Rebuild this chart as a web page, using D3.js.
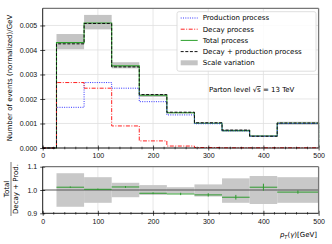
<!DOCTYPE html>
<html>
<head>
<meta charset="utf-8">
<script src="https://cdn.jsdelivr.net/npm/d3@7"></script>
<style>
  body { margin: 0; background: #fff; }
  svg { display: block; font-family: "DejaVu Sans", sans-serif; }
</style>
</head>
<body>
<svg id="chart" width="332" height="244"></svg>
<script>
// bin edges in GeV
const binEdges = [0, 25, 75, 125, 175, 225, 275, 325, 375, 425, 500];

// normalized distributions (x 1e-3 / GeV), one value per bin
const production = [0, 1.66, 2.67, 2.44, 1.89, 1.35, 0.99, 0.70, 0.48, 1.00];
const decay = [0, 2.67, 2.44, 0.90, 0.29, 0.08, 0.02, 0.01, 0.01, 0.01];
const total = [0, 4.30, 5.10, 3.35, 2.15, 1.44, 1.01, 0.71, 0.49, 1.01];
const decayProd = [0, 4.25, 5.08, 3.31, 2.18, 1.46, 1.03, 0.73, 0.48, 1.02];
const scaleLo = [0, 4.03, 4.84, 3.25, 2.08, 1.41, 0.98, 0.67, 0.46, 0.95];
const scaleHi = [0, 4.65, 5.43, 3.50, 2.20, 1.47, 1.04, 0.75, 0.52, 1.07];

// ratio panel (bins from 25 GeV on)
const ratio = [1.012, 1.003, 1.013, 0.986, 0.983, 0.979, 0.969, 1.012, 0.991];
const ratioErr = [0.003, 0.003, 0.004, 0.004, 0.005, 0.007, 0.010, 0.015, 0.007];
const ratioLo = [0.928, 0.945, 0.969, 0.979, 0.986, 0.972, 0.945, 0.940, 0.945];
const ratioHi = [1.072, 1.055, 1.031, 1.021, 1.012, 1.024, 1.050, 1.060, 1.055];

const xTicks = [0, 100, 200, 300, 400, 500];
const yTopTicks = [0, 0.001, 0.002, 0.003, 0.004, 0.005];
const yBotTicks = [0.9, 1.0, 1.1];

const legendItems = [
  { label: "Production process", type: "line", color: "#3333ff", dash: "1,1.3" },
  { label: "Decay process", type: "line", color: "#ff2020", dash: "4,1.5,1,1.5" },
  { label: "Total process", type: "line", color: "#2ca02c", dash: null },
  { label: "Decay + production process", type: "line", color: "#111", dash: "3,1.6" },
  { label: "Scale variation", type: "patch", color: "#c4c4c4" }
];

const svg = d3.select("#chart");
const left = 42.7, right = 318.6;

const x = d3.scaleLinear().domain([0, 500]).range([left, right]);
const yTop = d3.scaleLinear().domain([0, 0.0057]).range([148, 8.3]);
const yBot = d3.scaleLinear().domain([0.9, 1.1]).range([213.3, 166.7]);

const e3 = v => v * 1e-3;
const nBins = binEdges.length - 1;

function grid(y, ticks) {
  const g = svg.append("g").attr("stroke", "#e0e0e0").attr("stroke-width", 0.8);
  g.selectAll(".gx").data(xTicks.slice(1, -1)).join("line")
    .attr("x1", d => x(d)).attr("x2", d => x(d))
    .attr("y1", y.range()[0]).attr("y2", y.range()[1]);
  g.selectAll(".gy").data(ticks).join("line")
    .attr("x1", left).attr("x2", right)
    .attr("y1", d => y(d)).attr("y2", d => y(d));
}

function frame(y, yticks, fmt) {
  // axes with ticks crossing the spine
  const ax = svg.append("g")
    .attr("transform", `translate(0,${y.range()[0]})`)
    .call(d3.axisBottom(x).tickValues(xTicks).tickSize(2.5).tickPadding(3).tickFormat(d3.format("d")));
  ax.selectAll(".tick line").attr("y1", -2.5);
  const minor = d3.range(20, 500, 20).filter(d => d % 100 !== 0);
  ax.selectAll(".minor").data(minor).join("line")
    .attr("x1", d => x(d)).attr("x2", d => x(d))
    .attr("y1", -1.3).attr("y2", 1.3).attr("stroke", "#000").attr("stroke-width", 0.6);

  const ay = svg.append("g")
    .attr("transform", `translate(${left},0)`)
    .call(d3.axisLeft(y).tickValues(yticks).tickSize(2.5).tickPadding(3).tickFormat(fmt));
  ay.selectAll(".tick line").attr("x1", 2.5);

  [ax, ay].forEach(a => {
    a.select(".domain").remove();
    a.selectAll("text").attr("font-size", 7).attr("fill", "#111");
    a.selectAll(".tick line").attr("stroke", "#000").attr("stroke-width", 0.7);
  });

  // spines
  svg.append("line").attr("x1", left).attr("x2", right)
    .attr("y1", y.range()[1]).attr("y2", y.range()[1])
    .attr("stroke", "#777").attr("stroke-width", 1.3);
  svg.append("line").attr("x1", right).attr("x2", right)
    .attr("y1", y.range()[0]).attr("y2", y.range()[1])
    .attr("stroke", "#777").attr("stroke-width", 1.3);
  svg.append("line").attr("x1", left).attr("x2", left)
    .attr("y1", y.range()[0]).attr("y2", y.range()[1])
    .attr("stroke", "#000").attr("stroke-width", 0.9);
  svg.append("line").attr("x1", left).attr("x2", right)
    .attr("y1", y.range()[0]).attr("y2", y.range()[0])
    .attr("stroke", "#000").attr("stroke-width", 0.9);
}

// ---------- top panel ----------
grid(yTop, yTopTicks);

const bins = d3.range(nBins).map(i => ({ x0: binEdges[i], x1: binEdges[i + 1], i }));

svg.append("g").selectAll("rect")
  .data(bins.filter(b => total[b.i] > 0))
  .join("rect")
  .attr("x", b => x(b.x0))
  .attr("width", b => x(b.x1) - x(b.x0))
  .attr("y", b => yTop(e3(scaleHi[b.i])))
  .attr("height", b => yTop(e3(scaleLo[b.i])) - yTop(e3(scaleHi[b.i])))
  .attr("fill", "#c4c4c4");

const step = d3.line()
  .x(d => x(d[0]))
  .y(d => yTop(d[1]))
  .curve(d3.curveStepAfter);

function stepPoints(vals) {
  const pts = vals.map((v, i) => [binEdges[i], e3(v)]);
  pts.push([binEdges[nBins], e3(vals[nBins - 1])]);
  pts.push([binEdges[nBins], 0]);
  return pts;
}

const series = [
  { vals: total, color: "#2ca02c", dash: null, w: 1.1 },
  { vals: production, color: "#3333ff", dash: "1,1.3", w: 1 },
  { vals: decay, color: "#ff2020", dash: "4,1.5,1,1.5", w: 1 },
  { vals: decayProd, color: "#111", dash: "3,1.6", w: 1 }
];

svg.append("g").selectAll("path")
  .data(series)
  .join("path")
  .attr("d", s => step(stepPoints(s.vals)))
  .attr("fill", "none")
  .attr("stroke", s => s.color)
  .attr("stroke-width", s => s.w)
  .attr("stroke-dasharray", s => s.dash);

frame(yTop, yTopTicks, d3.format(".3f"));

svg.append("text")
  .attr("transform", "translate(12,78) rotate(-90)")
  .attr("text-anchor", "middle")
  .attr("font-size", 7)
  .text("Number of events (normalized)/GeV");

// legend
const lg = svg.append("g").attr("transform", "translate(177,11.7)");
lg.append("rect")
  .attr("width", 139).attr("height", 59.5).attr("rx", 2)
  .attr("fill", "#fff").attr("fill-opacity", 0.85)
  .attr("stroke", "#d5d5d5").attr("stroke-width", 0.8);
const rows = lg.selectAll(".row").data(legendItems).join("g")
  .attr("transform", (d, i) => `translate(0,${6.3 + i * 11.2})`);
rows.filter(d => d.type === "line").append("line")
  .attr("x1", 3.7).attr("x2", 20.7)
  .attr("stroke", d => d.color).attr("stroke-width", 1)
  .attr("stroke-dasharray", d => d.dash);
rows.filter(d => d.type === "patch").append("rect")
  .attr("x", 3.7).attr("y", -2.5).attr("width", 17).attr("height", 5)
  .attr("fill", d => d.color);
rows.append("text")
  .attr("x", 25.7).attr("dy", "0.34em")
  .attr("font-size", 7)
  .text(d => d.label);

const ann = svg.append("text")
  .attr("x", 209).attr("y", 92)
  .attr("font-size", 7);
ann.append("tspan").text("Parton level √");
ann.append("tspan").attr("text-decoration", "overline").text("s");
ann.append("tspan").text(" = 13  TeV");

// ---------- ratio panel ----------
grid(yBot, []);

const rbins = bins.slice(1).map((b, k) => ({ ...b, k }));

svg.append("g").selectAll("rect")
  .data(rbins)
  .join("rect")
  .attr("x", b => x(b.x0))
  .attr("width", b => x(b.x1) - x(b.x0))
  .attr("y", b => yBot(ratioHi[b.k]))
  .attr("height", b => yBot(ratioLo[b.k]) - yBot(ratioHi[b.k]))
  .attr("fill", "#c8c8c8");

svg.append("line")
  .attr("x1", left).attr("x2", right)
  .attr("y1", yBot(1)).attr("y2", yBot(1))
  .attr("stroke", "#555").attr("stroke-width", 1.1);

const eb = svg.append("g").attr("stroke", "#2e9a2e").attr("stroke-width", 1);
eb.selectAll(".h").data(rbins).join("line")
  .attr("x1", b => x(b.x0)).attr("x2", b => x(b.x1))
  .attr("y1", b => yBot(ratio[b.k])).attr("y2", b => yBot(ratio[b.k]));
eb.selectAll(".v").data(rbins).join("line")
  .attr("x1", b => x((b.x0 + b.x1) / 2)).attr("x2", b => x((b.x0 + b.x1) / 2))
  .attr("y1", b => yBot(ratio[b.k] - ratioErr[b.k]))
  .attr("y2", b => yBot(ratio[b.k] + ratioErr[b.k]));

frame(yBot, yBotTicks, d3.format(".1f"));

// fraction label
const fr = svg.append("g").attr("transform", "translate(11,189) rotate(-90)");
fr.append("text").attr("y", -2).attr("text-anchor", "middle").attr("font-size", 7).text("Total");
fr.append("line").attr("x1", -27).attr("x2", 27).attr("y1", 0).attr("y2", 0)
  .attr("stroke", "#222").attr("stroke-width", 0.6);
fr.append("text").attr("y", 6.5).attr("text-anchor", "middle").attr("font-size", 7).text("Decay + Prod.");

const xl = svg.append("text")
  .attr("x", 317).attr("y", 237)
  .attr("text-anchor", "end")
  .attr("font-size", 7);
xl.append("tspan").attr("font-style", "italic").text("p");
xl.append("tspan").attr("font-style", "italic").attr("font-size", 5).attr("dy", 1.5).text("T");
xl.append("tspan").attr("dy", -1.5).text("(");
xl.append("tspan").attr("font-style", "italic").text("γ");
xl.append("tspan").text(")[GeV]");
</script>
</body>
</html>
